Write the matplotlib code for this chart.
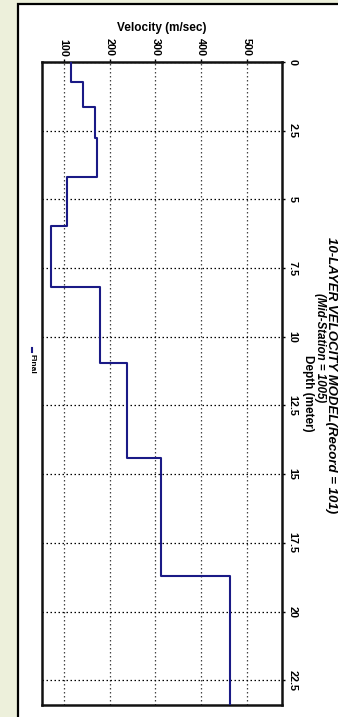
import numpy as np
import matplotlib
matplotlib.use('Agg')
import matplotlib.pyplot as plt
from matplotlib.patches import Rectangle
from matplotlib.lines import Line2D

# layer model
layer_bottom = [0.72, 1.65, 2.77, 4.17, 5.97, 8.19, 10.94, 14.41, 18.7, 24.0]
layer_vel = [116, 142, 168, 173, 107, 72, 180, 237, 312, 463]

vel_ticks = [100, 200, 300, 400, 500]
depth_ticks = [0, 2.5, 5, 7.5, 10, 12.5, 15, 17.5, 20, 22.5]
depth_labels = ['0', '2.5', '5', '7.5', '10', '12.5', '15', '17.5', '20', '22.5']

title = '10-LAYER VELOCITY MODEL(Record = 101)'
subtitle = '(Mid-Station = 1005)'

plt.rcParams['font.family'] = ['Liberation Sans', 'DejaVu Sans']

W, H = 338, 717
fig = plt.figure(figsize=(W / 100, H / 100), dpi=100)
fig.patch.set_facecolor('#edf0db')

# white panel with black border
panel = Rectangle((18 / W, -0.1), 1.2, 1.1 - 4 / H, transform=fig.transFigure,
                  facecolor='white', edgecolor='black', linewidth=1.6, zorder=0)
fig.add_artist(panel)

ax = fig.add_axes([42 / W, 1 - 705 / H, 240 / W, 643 / H])
ax.set_facecolor('white')

# step profile
tops = [0] + layer_bottom[:-1]
v = np.repeat(layer_vel, 2)
d = np.ravel(np.column_stack([tops, layer_bottom]))
ax.plot(v, d, color='#1a1a86', linewidth=1.5, label='Final', zorder=3)

ax.set_xlim(52.5, 576)
ax.set_ylim(23.4, 0)

ax.xaxis.tick_top()
ax.yaxis.tick_right()
ax.set_xticks(vel_ticks)
ax.set_xticklabels([str(t) for t in vel_ticks], rotation=-90, fontsize=7.8,
                   fontweight='bold')
ax.set_yticks(depth_ticks)
ax.set_yticklabels(depth_labels, rotation=-90, fontsize=7.8, fontweight='bold',
                   va='center')
ax.tick_params(axis='both', length=2.5, width=1, pad=1.5, color='black')

ax.grid(True, axis='y', color='black', linestyle=(0, (1.2, 2)), linewidth=0.9)
ax.grid(True, axis='x', color='#444444', linestyle=(0, (1.2, 2)), linewidth=0.9)
for s in ax.spines.values():
    s.set_linewidth(1.8)
    s.set_color('#111111')

# texts (the whole chart is turned on its side)
fig.text(162 / W, 1 - 28 / H, 'Velocity (m/sec)', ha='center', va='center',
         fontsize=8.5, fontweight='bold')
fig.text(331 / W, 1 - 375 / H, title, rotation=-90, ha='center', va='center',
         fontsize=9.5, fontweight='bold', style='italic')
fig.text(320 / W, 1 - 348 / H, subtitle, rotation=-90, ha='center', va='center',
         fontsize=8.3, style='italic', fontweight='bold')
fig.text(307.5 / W, 1 - 393 / H, 'Depth (meter)', rotation=-90, ha='center',
         va='center', fontsize=8.5, fontweight='bold')

# legend key
fig.add_artist(Line2D([32 / W, 32 / W], [1 - 348 / H, 1 - 352 / H],
                      transform=fig.transFigure, color='#1a1a86', linewidth=1.5))
fig.text(32 / W, 1 - 364 / H, 'Final', rotation=-90, ha='center', va='center',
         fontsize=6, fontweight='bold')

fig.savefig('out.png', dpi=100, facecolor=fig.get_facecolor())
